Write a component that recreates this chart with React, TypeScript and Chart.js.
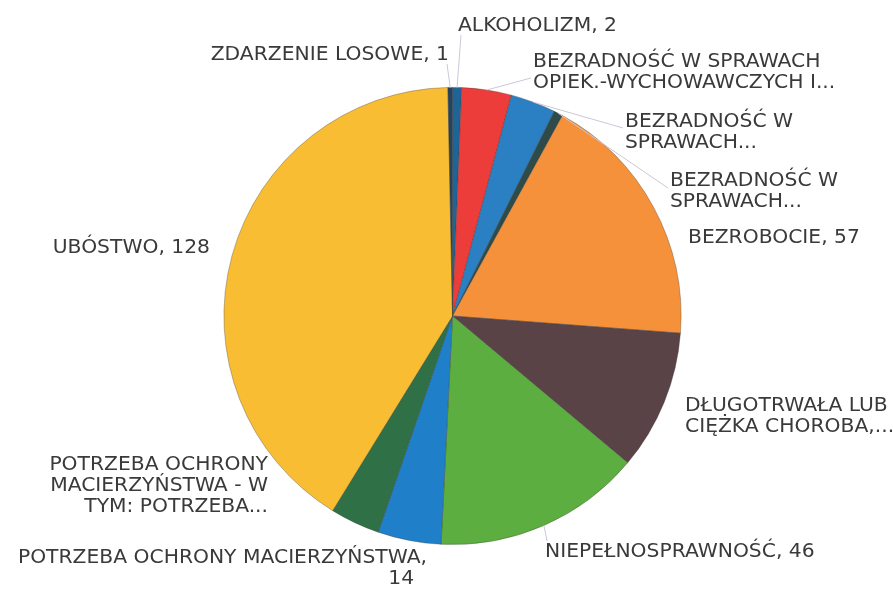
import React, { useEffect, useRef } from "react";
import { Chart, registerables } from "chart.js";

Chart.register(...registerables);

// ---- data ----
const categories = [
  "ALKOHOLIZM",
  "BEZRADNOŚĆ W SPRAWACH OPIEK.-WYCHOWAWCZYCH I...",
  "BEZRADNOŚĆ W SPRAWACH... (A)",
  "BEZRADNOŚĆ W SPRAWACH... (B)",
  "BEZROBOCIE",
  "DŁUGOTRWAŁA LUB CIĘŻKA CHOROBA,...",
  "NIEPEŁNOSPRAWNOŚĆ",
  "POTRZEBA OCHRONY MACIERZYŃSTWA",
  "POTRZEBA OCHRONY MACIERZYŃSTWA - W TYM: POTRZEBA...",
  "UBÓSTWO",
  "ZDARZENIE LOSOWE",
];
const values = [2, 11, 10, 2, 57, 31, 46, 14, 11, 128, 1];

const labelLines = [
  ["ALKOHOLIZM, 2"],
  ["BEZRADNOŚĆ W SPRAWACH", "OPIEK.-WYCHOWAWCZYCH I..."],
  ["BEZRADNOŚĆ W", "SPRAWACH..."],
  ["BEZRADNOŚĆ W", "SPRAWACH..."],
  ["BEZROBOCIE, 57"],
  ["DŁUGOTRWAŁA LUB", "CIĘŻKA CHOROBA,..."],
  ["NIEPEŁNOSPRAWNOŚĆ, 46"],
  ["POTRZEBA OCHRONY MACIERZYŃSTWA,", "14  "],
  ["POTRZEBA OCHRONY", "MACIERZYŃSTWA - W", "TYM: POTRZEBA..."],
  ["UBÓSTWO, 128"],
  ["ZDARZENIE LOSOWE, 1"],
];

// ---- styles ----
const sliceColors = [
  "#1f6496",
  "#ec3d3b",
  "#2a80c2",
  "#2f4b49",
  "#f5913b",
  "#5a4346",
  "#5dae40",
  "#1f80c9",
  "#2f7046",
  "#f8bd33",
  "#24445e",
];

// label placement relative to pie centre
const labelLayout = [
  { dx: 5.5, dy: -290, align: "left", leader: [8.5, -281] },
  { dx: 80.5, dy: -254, align: "left", leader: [78.5, -238] },
  { dx: 172.5, dy: -194, align: "left", leader: [170.5, -188] },
  { dx: 217.5, dy: -135, align: "left", leader: [215.5, -128] },
  { dx: 235.5, dy: -78, align: "left" },
  { dx: 232.5, dy: 90, align: "left" },
  { dx: 92.5, dy: 236, align: "left", leader: [94.5, 225] },
  { dx: -25.5, dy: 242, align: "right" },
  { dx: -184.5, dy: 149, align: "right" },
  { dx: -242.5, dy: -68, align: "right" },
  { dx: -3.5, dy: -261, align: "right", leader: [-5.5, -252] },
];

const FONT = '20.3px "DejaVu Sans"';
const LINE_H = 21;

const labelPlugin = {
  id: "outerLabels",
  afterDraw(chart: any) {
    const ctx = chart.ctx;
    const meta = chart.getDatasetMeta(0);
    ctx.save();
    meta.data.forEach((arc: any, i: number) => {
      const p = arc.getProps(["x", "y", "startAngle", "endAngle", "outerRadius"], true);
      const lay = labelLayout[i];
      if (!lay) return;
      const mid = (p.startAngle + p.endAngle) / 2;
      if (lay.leader) {
        const sx = p.x + Math.cos(mid) * p.outerRadius;
        const sy = p.y + Math.sin(mid) * p.outerRadius;
        ctx.strokeStyle = "#cdc6d8";
        ctx.lineWidth = 1;
        ctx.beginPath();
        ctx.moveTo(sx, sy);
        ctx.lineTo(p.x + lay.leader[0], p.y + lay.leader[1]);
        ctx.stroke();
      }
      ctx.font = FONT;
      ctx.fillStyle = "#3a3a3a";
      ctx.textAlign = lay.align;
      ctx.textBaseline = "middle";
      labelLines[i].forEach((line, k) => {
        ctx.fillText(line, p.x + lay.dx, p.y + lay.dy + k * LINE_H);
      });
    });
    ctx.restore();
  },
};

export default function App() {
  const ref = useRef<HTMLCanvasElement>(null);
  useEffect(() => {
    if (!ref.current) return;
    const chart = new Chart(ref.current, {
      type: "pie",
      data: {
        labels: categories,
        datasets: [
          {
            data: values,
            backgroundColor: sliceColors,
            borderColor: "rgba(50,50,50,0.4)",
            borderWidth: 0.8,
          },
        ],
      },
      options: {
        responsive: false,
        animation: false,
        layout: { padding: { left: 223.5, right: 211.5, top: 87, bottom: 44 } },
        plugins: {
          legend: { display: false },
          tooltip: { enabled: false },
        },
      },
      plugins: [labelPlugin],
    });
    return () => chart.destroy();
  }, []);
  return (
    <div style={{ position: "fixed", left: 0, top: 0, width: 893, height: 589, background: "#fff" }}>
      <canvas ref={ref} width={893} height={589} style={{ display: "block" }} />
    </div>
  );
}
